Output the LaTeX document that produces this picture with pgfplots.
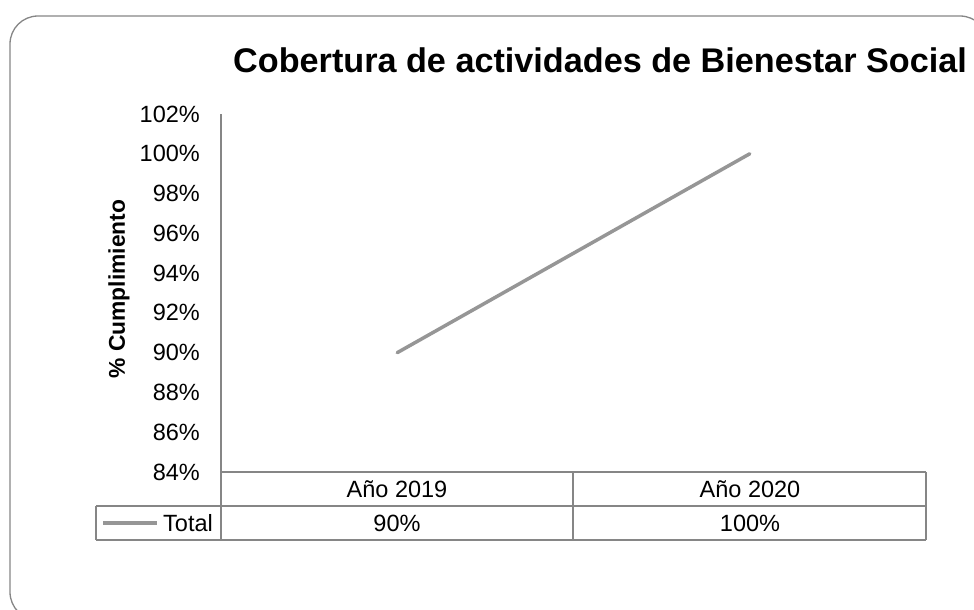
\documentclass[border=0pt]{standalone}
\usepackage{pgfplots}
\pgfplotsset{compat=1.18}
\usepackage{fontspec}
\setmainfont{Liberation Sans}
\definecolor{linegray}{RGB}{150,150,150}
\definecolor{axgray}{RGB}{134,134,134}
\begin{document}
\begin{tikzpicture}[x=1pt,y=1pt]
\useasboundingbox (0,0) rectangle (974,-610);
\clip (0,0) rectangle (974,-610);
\draw[axgray, line width=1.3pt, rounded corners=28pt] (10,-16) rectangle (988,-620);
\begin{axis}[
  at={(221pt,-472pt)}, anchor=south west,
  scale only axis, width=705pt, height=358pt,
  xmin=-0.5, xmax=1.5, ymin=84, ymax=102,
  ytick={84,86,...,102},
  yticklabel={\pgfmathprintnumber{\tick}\%},
  xtick=\empty,
  axis x line*=bottom, axis y line*=left,
  axis line style={axgray, line width=1.3pt, -},
  major tick length=0pt,
  tick label style={font=\fontsize{23.5}{28}\selectfont},
  /pgf/number format/assume math mode=true,
  yticklabel style={anchor=east, inner sep=0pt, xshift=-21pt},
  clip=false,
]
\addplot[linegray, line width=3.5pt, line cap=round] coordinates {(0,90) (1,100)};
\end{axis}
% title and y label
\node[anchor=base west, inner sep=0pt, font=\fontsize{34.2}{40}\selectfont\bfseries] at (233,-72) {Cobertura de actividades de Bienestar Social};
\node[rotate=90, inner sep=0pt, font=\fontsize{22.8}{28}\selectfont\bfseries] at (119,-289) {\% Cumplimiento};
% data table
\begin{scope}[axgray, line width=1.3pt]
\draw (96,-506) -- (926,-506);
\draw (96,-540) -- (926,-540);
\draw (96,-506) -- (96,-540);
\draw (221,-472) -- (221,-540);
\draw (573,-472) -- (573,-540);
\draw (926,-472) -- (926,-540);
\draw (221,-472) -- (926,-472);
\end{scope}
\draw[linegray, line width=3.5pt] (103,-523) -- (157,-523);
\begin{scope}[font=\fontsize{23.5}{28}\selectfont, inner sep=0pt]
\node at (397,-489) {Año 2019};
\node at (750,-489) {Año 2020};
\node at (397,-523) {90\%};
\node at (750,-523) {100\%};
\node[anchor=east] at (213,-523) {Total};
\end{scope}
\end{tikzpicture}
\end{document}
